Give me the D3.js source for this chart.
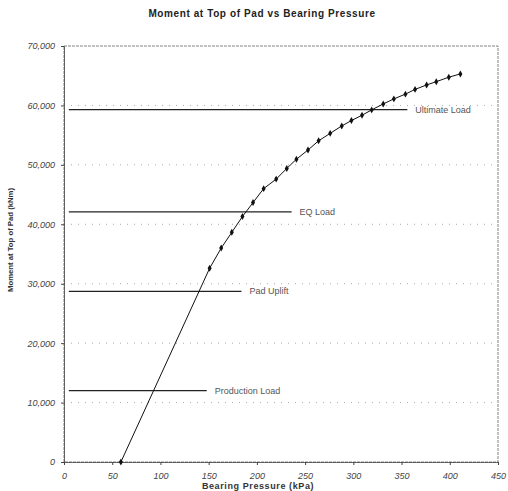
<!DOCTYPE html>
<html>
<head>
<meta charset="utf-8">
<script src="https://cdn.jsdelivr.net/npm/d3@7"></script>
<style>
  html, body { margin: 0; padding: 0; background: #fff; }
  svg { display: block; font-family: "Liberation Sans", Arial, sans-serif; }
</style>
</head>
<body>
<svg id="chart" width="508" height="491"></svg>
<script>
// ---- data ----
const pressure = [59, 151, 163, 174, 185, 196, 207, 220, 231, 241, 253, 264, 276, 288, 298, 309, 319, 331, 342, 354, 364, 376, 386, 399, 411];
const moment   = [0, 32600, 36000, 38650, 41300, 43650, 46000, 47600, 49400, 50950, 52500, 54050, 55300, 56550, 57450, 58350, 59250, 60250, 61100, 61900, 62700, 63450, 64000, 64750, 65300];

const loadNames  = ["Ultimate Load", "EQ Load", "Pad Uplift", "Production Load"];
const loadValues = [59300, 42100, 28700, 12000];
const loadStart  = [5, 5, 5, 5];
const loadEnd    = [356, 236, 184, 148];

const xTicks = [0, 50, 100, 150, 200, 250, 300, 350, 400, 450];
const yTicks = [0, 10000, 20000, 30000, 40000, 50000, 60000, 70000];

const chartTitle = "Moment at Top of Pad vs Bearing Pressure";
const xTitle = "Bearing Pressure (kPa)";
const yTitle = "Moment at Top of Pad (kNm)";

// ---- layout ----
const svg = d3.select("#chart");
const L = 64, R = 498, T = 46, B = 462;
const x = d3.scaleLinear().domain([0, 450]).range([L, R]);
const y = d3.scaleLinear().domain([0, 70000]).range([B, T]);

// gridlines
svg.append("g").selectAll("line")
  .data(yTicks.filter(v => v > 0 && v < 70000))
  .join("line")
  .attr("x1", L).attr("x2", R)
  .attr("y1", d => y(d)).attr("y2", d => y(d))
  .attr("stroke", "#aaa").attr("stroke-width", 1)
  .attr("stroke-dasharray", "1,6");

// frame
svg.append("rect")
  .attr("x", L).attr("y", T).attr("width", R - L).attr("height", B - T)
  .attr("fill", "none").attr("stroke", "#666").attr("stroke-width", 0.8)
  .attr("stroke-dasharray", "3,1");

// axes
const fmt = d3.format(",");
const yAxis = svg.append("g").attr("transform", `translate(${L},0)`)
  .call(d3.axisLeft(y).tickValues(yTicks).tickFormat(fmt).tickSize(3).tickPadding(6));
const xAxis = svg.append("g").attr("transform", `translate(0,${B})`)
  .call(d3.axisBottom(x).tickValues(xTicks).tickSize(3).tickPadding(8));
[yAxis, xAxis].forEach(a => {
  a.select(".domain").attr("stroke", "#444").attr("stroke-width", 0.8);
  a.selectAll(".tick line").attr("stroke", "#444");
  a.selectAll("text").attr("font-size", 9).attr("fill", "#444")
    .attr("font-style", "italic");
});

// load lines
const loads = loadNames.map((n, i) => ({ name: n, v: loadValues[i], s: loadStart[i], e: loadEnd[i] }));
const lg = svg.append("g");
lg.selectAll("line").data(loads).join("line")
  .attr("x1", d => x(d.s)).attr("x2", d => x(d.e))
  .attr("y1", d => y(d.v)).attr("y2", d => y(d.v))
  .attr("stroke", "#222").attr("stroke-width", 1.2);
lg.selectAll("text").data(loads).join("text")
  .attr("x", d => x(d.e) + 8).attr("y", d => y(d.v) + 3)
  .attr("font-size", 9).attr("fill", "#555")
  .text(d => d.name);

// curve
const pts = pressure.map((p, i) => ({ p, m: moment[i] }));
svg.append("path").datum(pts)
  .attr("fill", "none").attr("stroke", "#111").attr("stroke-width", 1)
  .attr("d", d3.line().x(d => x(d.p)).y(d => y(d.m)));
svg.append("g").selectAll("path").data(pts).join("path")
  .attr("transform", d => `translate(${x(d.p)},${y(d.m)})`)
  .attr("d", d3.symbol(d3.symbolDiamond).size(14))
  .attr("fill", "#111");

// titles
svg.append("text").attr("x", 262).attr("y", 17).attr("text-anchor", "middle")
  .attr("font-size", 10).attr("font-weight", "bold").attr("letter-spacing", 0.6)
  .attr("fill", "#222").text(chartTitle);
svg.append("text").attr("x", 258).attr("y", 489).attr("text-anchor", "middle")
  .attr("font-size", 9).attr("font-weight", "bold").attr("letter-spacing", 0.6)
  .attr("fill", "#333").text(xTitle);
svg.append("text").attr("transform", "translate(13,240) rotate(-90)")
  .attr("text-anchor", "middle").attr("font-size", 8).attr("font-weight", "bold")
  .attr("fill", "#333").attr("textLength", 104).attr("lengthAdjust", "spacingAndGlyphs")
  .text(yTitle);
</script>
</body>
</html>
